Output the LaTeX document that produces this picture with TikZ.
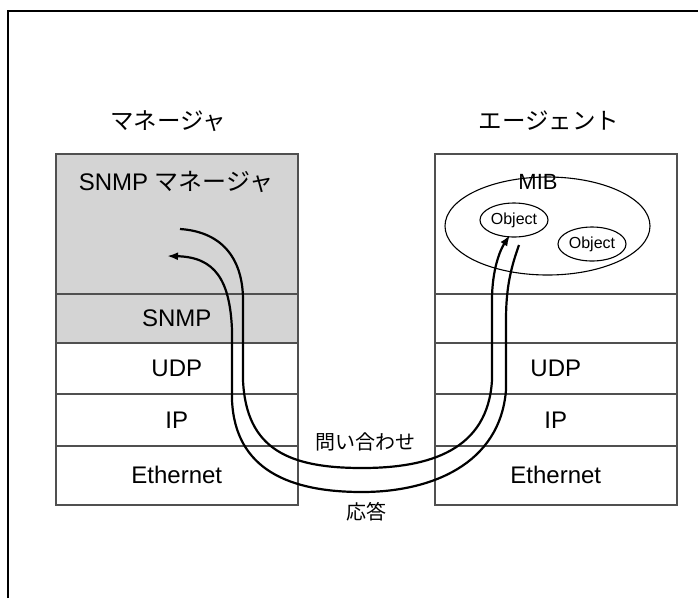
\documentclass[tikz,border=0pt]{standalone}
\usepackage{fontspec}
\setmainfont{Liberation Sans}
\newfontfamily\jp{Noto Sans CJK JP}
\usetikzlibrary{arrows.meta,shapes.geometric}
\definecolor{layerfill}{RGB}{212,212,212}
\definecolor{edgegray}{RGB}{80,80,80}
\begin{document}
\begin{tikzpicture}[x=1pt,y=-1pt,
  layer/.style={draw=edgegray, line width=1.6pt, minimum width=242pt,
    inner sep=0pt, anchor=north west, font=\fontsize{24}{28}\selectfont},
  heading/.style={font=\jp\fontsize{23.5}{28}\selectfont, inner sep=0pt},
  caption/.style={font=\jp\fontsize{20}{24}\selectfont, inner sep=0pt},
  objshape/.style={draw, ellipse, line width=1.1pt, minimum width=68pt,
    minimum height=34pt, inner sep=0pt, font=\fontsize{16}{19}\selectfont},
  flow/.style={line width=2.2pt, -{Latex[length=11pt,width=8pt]}}]
\useasboundingbox (0,0) rectangle (698,598);
\fill[white] (0,0) rectangle (698,598);
% outer frame
\draw[line width=2pt] (8,598) -- (8,11) -- (698,11);

% titles
\node[heading] (mgrtitle) at (168,121) {マネージャ};
\node[heading] (agttitle) at (549,121) {エージェント};

% manager stack
\node[layer, fill=layerfill, minimum height=140pt] (mapp) at (55,153) {};
\node[layer, fill=layerfill, minimum height=49pt] (msnmp) at (55,293) {SNMP};
\node[layer, minimum height=51pt] (mudp) at (55,342) {UDP};
\node[layer, minimum height=52pt] (mip) at (55,393) {IP};
\node[layer, minimum height=59pt] (meth) at (55,445) {Ethernet};
\node[font=\fontsize{24}{28}\selectfont, inner sep=0pt] (mapplbl) at (176,182) {SNMP {\jp マネージャ}};

% agent stack
\node[layer, minimum height=140pt] (aapp) at (434,153) {};
\node[layer, minimum height=49pt] (ablank) at (434,293) {};
\node[layer, minimum height=51pt] (audp) at (434,342) {UDP};
\node[layer, minimum height=52pt] (aip) at (434,393) {IP};
\node[layer, minimum height=59pt] (aeth) at (434,445) {Ethernet};

% MIB and its objects
\node[draw, ellipse, line width=1.1pt, minimum width=205pt, minimum height=98pt] (mib) at (547.5,226) {};
\node[font=\fontsize{22}{26}\selectfont, inner sep=0pt] (miblbl) at (538,182) {MIB};
\node[objshape] (obj1) at (514,220) {Object};
\node[objshape] (obj2) at (592,244) {Object};

% end points of the two message paths
\coordinate (qstart) at (180,229);
\coordinate (qend) at (510,235);
\coordinate (rstart) at (519,245);
\coordinate (rend) at (167,256);

% query: manager -> agent
\draw[flow] (qstart) .. controls (225,232) and (243,262) .. (243,300) -- (243,380)
  .. controls (246,450) and (290,468) .. (362,468)
  .. controls (430,468) and (488,450) .. (492,380) -- (492,300)
  .. controls (492,270) and (500,250) .. (qend);
% response: agent -> manager
\draw[flow] (rstart) .. controls (510,270) and (506,290) .. (506,320) -- (506,390)
  .. controls (500,465) and (430,492) .. (362,492)
  .. controls (290,492) and (235,470) .. (232,400) -- (232,330)
  .. controls (230,280) and (215,257) .. (rend);

\node[caption] (querylbl) at (365,442) {問い合わせ};
\node[caption] (resplbl) at (366,512) {応答};
\end{tikzpicture}
\end{document}
